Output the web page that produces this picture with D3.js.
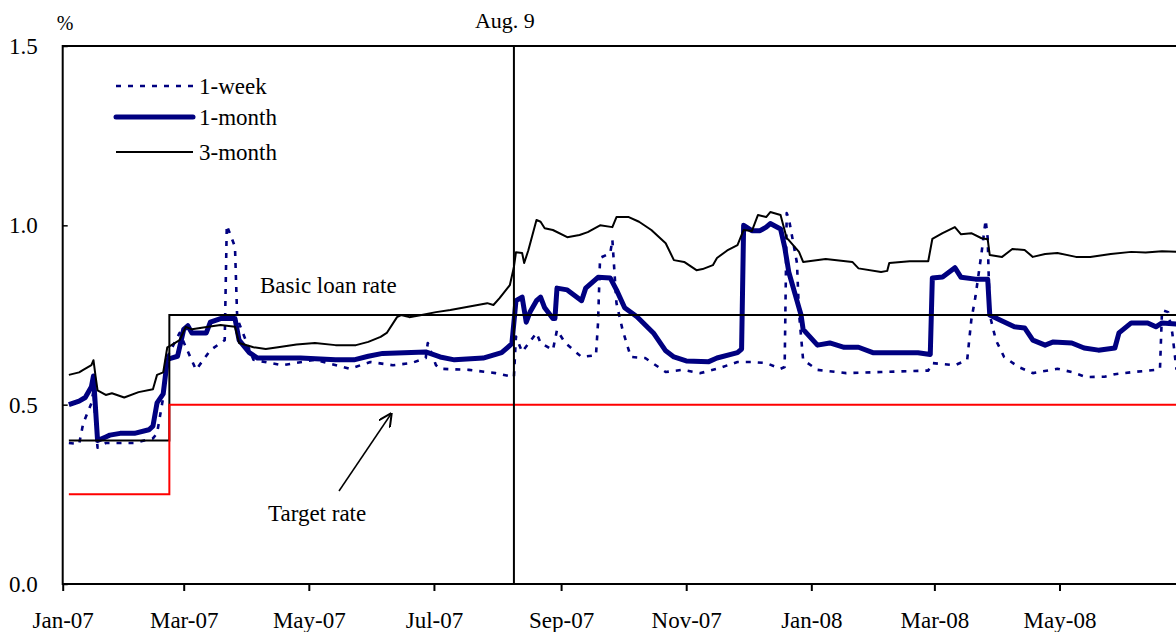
<!DOCTYPE html>
<html lang="en">
<head>
<meta charset="UTF-8">
<title>Money market rates</title>
<style>
  body { margin: 0; background: #fff; }
  svg { display: block; font-family: "Liberation Serif", "Times New Roman", serif; }
</style>
</head>
<body>
<svg id="chart" width="1176" height="632"></svg>
<script src="https://d3js.org/d3.v7.min.js"></script>
<script>
// ---- data ----
const oneWeek = [
  ["2007-01-04",0.393],["2007-01-09",0.39],["2007-01-11",0.448],["2007-01-15",0.504],["2007-01-16",0.54],
  ["2007-01-17",0.45],["2007-01-18",0.38],["2007-01-22",0.393],["2007-02-05",0.393],["2007-02-14",0.406],
  ["2007-02-16",0.42],["2007-02-19",0.52],["2007-02-21",0.633],["2007-02-27",0.70],["2007-03-07",0.597],
  ["2007-03-14",0.652],["2007-03-19",0.672],["2007-03-21",0.68],["2007-03-22",1.00],["2007-03-26",0.94],
  ["2007-03-27",0.755],["2007-03-28",0.727],["2007-04-04",0.625],["2007-04-18",0.61],["2007-05-04",0.625],
  ["2007-05-21",0.60],["2007-05-31",0.619],["2007-06-11",0.61],["2007-06-20",0.616],["2007-06-27",0.63],
  ["2007-06-28",0.672],["2007-07-02",0.61],["2007-07-04",0.60],["2007-07-18",0.597],["2007-07-31",0.588],
  ["2007-08-09",0.577],["2007-08-10",0.69],["2007-08-13",0.647],["2007-08-20",0.70],["2007-08-22",0.672],
  ["2007-08-28",0.652],["2007-08-30",0.708],["2007-09-03",0.672],["2007-09-11",0.633],["2007-09-18",0.638],
  ["2007-09-19",0.727],["2007-09-20",0.909],["2007-09-25",0.923],["2007-09-26",0.96],["2007-09-28",0.783],
  ["2007-10-01",0.708],["2007-10-05",0.633],["2007-10-12",0.63],["2007-10-22",0.591],["2007-10-30",0.597],
  ["2007-11-08",0.588],["2007-11-16",0.60],["2007-11-26",0.619],["2007-12-03",0.619],["2007-12-10",0.616],
  ["2007-12-17",0.60],["2007-12-19",0.605],["2007-12-20",1.034],["2007-12-21",1.02],["2007-12-25",0.895],
  ["2007-12-26",0.755],["2007-12-28",0.625],["2008-01-04",0.597],["2008-01-18",0.588],["2008-02-04",0.591],
  ["2008-02-20",0.594],["2008-02-27",0.595],["2008-02-29",0.616],["2008-03-11",0.61],["2008-03-17",0.625],
  ["2008-03-19",0.736],["2008-03-21",0.80],["2008-03-24",0.923],["2008-03-26",1.015],["2008-03-27",0.964],
  ["2008-03-28",0.75],["2008-03-31",0.68],["2008-04-04",0.633],["2008-04-11",0.605],["2008-04-18",0.588],
  ["2008-04-30",0.60],["2008-05-07",0.591],["2008-05-14",0.577],["2008-05-23",0.578],["2008-05-28",0.585],
  ["2008-06-06",0.591],["2008-06-17",0.597],["2008-06-19",0.60],["2008-06-20",0.764],["2008-06-23",0.758],
  ["2008-06-25",0.70],["2008-06-26",0.65],["2008-06-27",0.60],["2008-06-30",0.60]
];

const oneMonth = [
  ["2007-01-04",0.50],["2007-01-09",0.51],["2007-01-12",0.52],["2007-01-15",0.55],["2007-01-16",0.58],
  ["2007-01-18",0.40],["2007-01-22",0.41],["2007-01-24",0.415],["2007-01-29",0.42],["2007-02-05",0.42],
  ["2007-02-12",0.43],["2007-02-14",0.44],["2007-02-16",0.505],["2007-02-19",0.53],["2007-02-21",0.625],
  ["2007-02-23",0.63],["2007-02-26",0.635],["2007-03-01",0.71],["2007-03-03",0.72],["2007-03-05",0.70],
  ["2007-03-12",0.70],["2007-03-14",0.73],["2007-03-19",0.74],["2007-03-26",0.74],["2007-03-28",0.68],
  ["2007-04-02",0.645],["2007-04-06",0.63],["2007-04-16",0.63],["2007-04-27",0.63],["2007-05-14",0.625],
  ["2007-05-23",0.625],["2007-05-30",0.635],["2007-06-06",0.643],["2007-06-27",0.647],["2007-07-04",0.633],
  ["2007-07-11",0.625],["2007-07-25",0.63],["2007-08-03",0.645],["2007-08-06",0.66],["2007-08-08",0.67],
  ["2007-08-10",0.79],["2007-08-13",0.80],["2007-08-15",0.73],["2007-08-17",0.76],["2007-08-20",0.79],
  ["2007-08-22",0.80],["2007-08-24",0.77],["2007-08-28",0.74],["2007-08-29",0.74],["2007-08-30",0.825],
  ["2007-09-04",0.82],["2007-09-11",0.79],["2007-09-13",0.825],["2007-09-19",0.855],["2007-09-25",0.853],
  ["2007-09-28",0.82],["2007-10-02",0.77],["2007-10-08",0.745],["2007-10-16",0.70],["2007-10-22",0.65],
  ["2007-10-26",0.633],["2007-11-01",0.622],["2007-11-12",0.62],["2007-11-16",0.63],["2007-11-26",0.645],
  ["2007-11-28",0.655],["2007-11-29",1.00],["2007-12-03",0.985],["2007-12-07",0.985],["2007-12-10",0.995],
  ["2007-12-12",1.005],["2007-12-17",0.99],["2007-12-19",0.94],["2007-12-21",0.87],["2007-12-26",0.77],
  ["2007-12-27",0.75],["2007-12-28",0.71],["2008-01-04",0.666],["2008-01-10",0.672],["2008-01-17",0.66],
  ["2008-01-24",0.66],["2008-01-31",0.645],["2008-02-11",0.645],["2008-02-22",0.645],["2008-02-28",0.64],
  ["2008-02-29",0.853],["2008-03-05",0.856],["2008-03-11",0.882],["2008-03-14",0.855],["2008-03-21",0.85],
  ["2008-03-27",0.85],["2008-03-28",0.75],["2008-04-02",0.736],["2008-04-09",0.717],["2008-04-14",0.714],
  ["2008-04-18",0.68],["2008-04-24",0.666],["2008-04-28",0.675],["2008-05-07",0.672],["2008-05-13",0.658],
  ["2008-05-20",0.652],["2008-05-28",0.658],["2008-05-30",0.70],["2008-06-05",0.728],["2008-06-13",0.728],
  ["2008-06-17",0.717],["2008-06-20",0.728],["2008-06-27",0.725],["2008-06-30",0.725]
];

const threeMonth = [
  ["2007-01-04",0.583],["2007-01-09",0.59],["2007-01-11",0.597],["2007-01-15",0.61],["2007-01-16",0.624],
  ["2007-01-17",0.58],["2007-01-18",0.54],["2007-01-22",0.527],["2007-01-25",0.532],["2007-01-31",0.52],
  ["2007-02-07",0.535],["2007-02-14",0.543],["2007-02-16",0.583],["2007-02-19",0.59],["2007-02-21",0.66],
  ["2007-02-23",0.666],["2007-02-27",0.68],["2007-03-02",0.717],["2007-03-05",0.71],["2007-03-13",0.717],
  ["2007-03-19",0.722],["2007-03-26",0.717],["2007-03-28",0.672],["2007-04-04",0.66],["2007-04-10",0.655],
  ["2007-04-16",0.66],["2007-04-25",0.668],["2007-05-04",0.672],["2007-05-14",0.666],["2007-05-24",0.666],
  ["2007-05-30",0.675],["2007-06-05",0.689],["2007-06-08",0.70],["2007-06-13",0.744],["2007-06-15",0.75],
  ["2007-06-19",0.744],["2007-06-25",0.75],["2007-07-02",0.758],["2007-07-09",0.764],["2007-07-17",0.772],
  ["2007-07-27",0.783],["2007-07-30",0.778],["2007-08-02",0.797],["2007-08-07",0.833],["2007-08-09",0.884],
  ["2007-08-10",0.925],["2007-08-13",0.923],["2007-08-14",0.895],["2007-08-16",0.93],["2007-08-20",1.015],
  ["2007-08-22",1.01],["2007-08-24",0.992],["2007-08-28",0.987],["2007-09-04",0.967],["2007-09-10",0.973],
  ["2007-09-14",0.981],["2007-09-20",1.00],["2007-09-26",0.995],["2007-09-28",1.023],["2007-10-04",1.023],
  ["2007-10-09",1.01],["2007-10-15",0.987],["2007-10-22",0.95],["2007-10-26",0.903],["2007-10-31",0.898],
  ["2007-11-06",0.875],["2007-11-09",0.878],["2007-11-14",0.889],["2007-11-16",0.909],["2007-11-21",0.93],
  ["2007-11-26",0.945],["2007-11-29",0.987],["2007-12-03",0.984],["2007-12-06",1.029],["2007-12-10",1.023],
  ["2007-12-12",1.037],["2007-12-17",1.029],["2007-12-20",0.964],["2007-12-21",0.959],["2007-12-26",0.926],
  ["2007-12-28",0.898],["2008-01-08",0.906],["2008-01-21",0.898],["2008-01-24",0.88],["2008-02-04",0.87],
  ["2008-02-07",0.873],["2008-02-08",0.895],["2008-02-18",0.90],["2008-02-27",0.90],["2008-02-29",0.962],
  ["2008-03-05",0.978],["2008-03-11",0.995],["2008-03-14",0.975],["2008-03-19",0.978],["2008-03-24",0.964],
  ["2008-03-27",0.961],["2008-03-28",0.917],["2008-04-03",0.912],["2008-04-08",0.934],["2008-04-14",0.931],
  ["2008-04-18",0.912],["2008-04-24",0.92],["2008-04-30",0.923],["2008-05-09",0.912],["2008-05-16",0.912],
  ["2008-05-26",0.92],["2008-06-05",0.926],["2008-06-12",0.924],["2008-06-20",0.928],["2008-06-27",0.926],
  ["2008-06-30",0.926]
];

// policy rates (step lines)
const basicLoanRate = [["2007-01-04",0.40],["2007-02-22",0.75],["2008-06-30",0.75]];
const targetRate = [["2007-01-04",0.25],["2007-02-22",0.50],["2008-06-30",0.50]];

const eventDate = "2007-08-09";
const eventLabel = "Aug. 9";
const yTicks = [0, 0.5, 1.0, 1.5];

const legendItems = [
  { key: "1-week", data: oneWeek },
  { key: "1-month", data: oneMonth },
  { key: "3-month", data: threeMonth }
];

// ---- setup ----
const parse = d3.timeParse("%Y-%m-%d");
const width = 1176, height = 632;
const margin = { left: 62.7, top: 46, bottom: 48 };
const plotRight = 1184.6;

const svg = d3.select("#chart");

const x = d3.scaleTime()
  .domain([new Date(2007, 0, 1), new Date(2008, 6, 1)])
  .range([margin.left, plotRight]);

const y = d3.scaleLinear()
  .domain([0, 1.5])
  .range([height - margin.bottom, margin.top]);

const styles = {
  "1-week": { stroke: "#000080", width: 2.6, dash: "5,7" },
  "1-month": { stroke: "#000080", width: 5, dash: null },
  "3-month": { stroke: "#000", width: 2, dash: null }
};

svg.append("defs").append("clipPath").attr("id", "plot-clip")
  .append("rect")
  .attr("x", margin.left).attr("y", margin.top)
  .attr("width", plotRight - margin.left)
  .attr("height", y(0) - margin.top);

const line = d3.line()
  .x(d => x(parse(d[0])))
  .y(d => y(d[1]));

const stepLine = d3.line()
  .x(d => x(parse(d[0])))
  .y(d => y(d[1]))
  .curve(d3.curveStepAfter);

const plot = svg.append("g").attr("clip-path", "url(#plot-clip)");

// series
legendItems.forEach(item => {
  const s = styles[item.key];
  plot.append("path")
    .datum(item.data)
    .attr("d", line)
    .attr("fill", "none")
    .attr("stroke", s.stroke)
    .attr("stroke-width", s.width)
    .attr("stroke-dasharray", s.dash)
    .attr("stroke-linejoin", "round");
});

// basic loan rate and target rate
plot.append("path").datum(basicLoanRate).attr("d", stepLine)
  .attr("fill", "none").attr("stroke", "#000").attr("stroke-width", 2);
plot.append("path").datum(targetRate).attr("d", stepLine)
  .attr("fill", "none").attr("stroke", "#ff0000").attr("stroke-width", 2);

// Aug 9 marker
svg.append("line")
  .attr("x1", x(parse(eventDate))).attr("x2", x(parse(eventDate)))
  .attr("y1", y(1.5)).attr("y2", y(0))
  .attr("stroke", "#000").attr("stroke-width", 2);

svg.append("text")
  .attr("x", x(parse(eventDate)) - 9)
  .attr("y", 28)
  .attr("text-anchor", "middle")
  .attr("font-size", 22)
  .text(eventLabel);

// frame
svg.append("rect")
  .attr("x", margin.left).attr("y", margin.top)
  .attr("width", plotRight - margin.left)
  .attr("height", y(0) - margin.top)
  .attr("fill", "none").attr("stroke", "#000").attr("stroke-width", 2);

// x axis
const xAxis = d3.axisBottom(x)
  .tickValues(d3.timeMonth.every(2).range(new Date(2007, 0, 1), new Date(2008, 5, 2)))
  .tickFormat(d3.timeFormat("%b-%y"))
  .tickSizeInner(7).tickSizeOuter(0).tickPadding(21);

const gx = svg.append("g")
  .attr("transform", `translate(0,${y(0)})`)
  .call(xAxis);
gx.select(".domain").remove();
gx.selectAll(".tick line").attr("stroke-width", 2);
gx.selectAll("text").attr("font-size", 23).attr("font-family", "Liberation Serif").attr("fill", "#000");

// y axis
const yAxis = d3.axisLeft(y)
  .tickValues(yTicks)
  .tickFormat(d3.format(".1f"))
  .tickSizeInner(-5).tickSizeOuter(0).tickPadding(25);

const gy = svg.append("g")
  .attr("transform", `translate(${margin.left},0)`)
  .call(yAxis);
gy.select(".domain").remove();
gy.selectAll(".tick line").attr("stroke-width", 1.5);
gy.selectAll("text").attr("font-size", 23).attr("font-family", "Liberation Serif")
  .attr("fill", "#000").attr("dy", "0.33em");

svg.append("text")
  .attr("x", 65).attr("y", 30)
  .attr("text-anchor", "middle")
  .attr("font-size", 20)
  .text("%");

// legend
const legend = svg.append("g");
legendItems.forEach((item, i) => {
  const s = styles[item.key];
  const ly = [86, 117, 152][i];
  legend.append("line")
    .attr("x1", 116).attr("x2", 193)
    .attr("y1", ly).attr("y2", ly)
    .attr("stroke", s.stroke)
    .attr("stroke-width", s.width)
    .attr("stroke-dasharray", s.dash)
    .attr("stroke-linecap", item.key === "1-month" ? "round" : "butt");
  legend.append("text")
    .attr("x", 199).attr("y", ly + 8)
    .attr("font-size", 23)
    .text(item.key);
});

// annotations
svg.append("text")
  .attr("x", 260).attr("y", 293)
  .attr("font-size", 23)
  .text("Basic loan rate");

svg.append("text")
  .attr("x", 268).attr("y", 521)
  .attr("font-size", 23)
  .text("Target rate");

svg.append("defs").append("marker")
  .attr("id", "arrow")
  .attr("viewBox", "0 0 10 10")
  .attr("refX", 9).attr("refY", 5)
  .attr("markerWidth", 9).attr("markerHeight", 9)
  .attr("orient", "auto")
  .append("path")
  .attr("d", "M0,0 L10,5 L0,10")
  .attr("fill", "none").attr("stroke", "#000").attr("stroke-width", 1.5);

svg.append("line")
  .attr("x1", 339).attr("y1", 491)
  .attr("x2", 391).attr("y2", 414)
  .attr("stroke", "#000").attr("stroke-width", 1.5)
  .attr("marker-end", "url(#arrow)");
</script>
</body>
</html>
